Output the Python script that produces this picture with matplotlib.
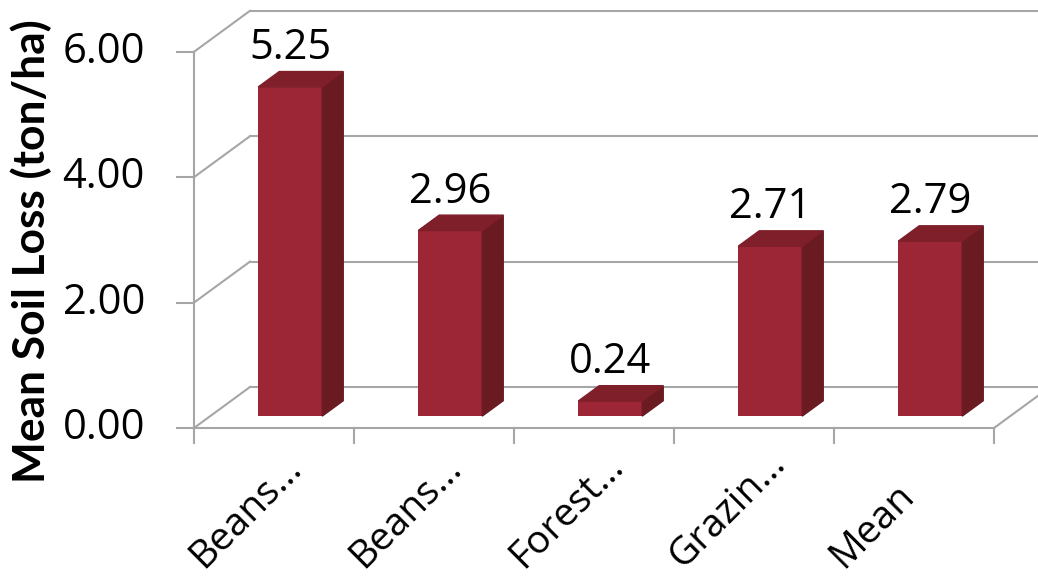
import matplotlib
matplotlib.use("Agg")
import matplotlib.pyplot as plt
from matplotlib.patches import Polygon

# data
categories = ["Beans…", "Beans…", "Forest…", "Grazin…", "Mean"]
soil_loss = [5.25, 2.96, 0.24, 2.71, 2.79]
y_ticks = [0, 2, 4, 6]

# fake 3d projection: depth 1 = back wall
DX = 0.35
DY = 0.654
D0, D1 = 0.29, 0.665
BAR_W = 0.4

FRONT = "#9c2536"
SIDE = "#6a1a21"
TOP = "#7e1f2a"
GRID = "#a6a6a6"

plt.rcParams['font.family'] = ['Open Sans', 'DejaVu Sans']

fig = plt.figure(figsize=(10.38, 5.84), dpi=100)
ax = fig.add_axes([0, 0, 1, 1])
ax.set_xlim(-1.7125, 4.775)
ax.set_ylim(-2.488, 6.826)
ax.axis("off")

n = len(categories)
x_left, x_right = -0.5, n - 0.5

# walls / gridlines
for g in y_ticks:
    ax.plot([x_left + DX, x_right + DX], [g + DY, g + DY], color=GRID, lw=1.5, zorder=1)
    ax.plot([x_left, x_left + DX], [g, g + DY], color=GRID, lw=1.5, zorder=1)
    ax.plot([x_left - 17 / 160, x_left], [g, g], color=GRID, lw=1.5, zorder=1)
    ax.text(x_left - 49 / 160, g, f"{g:.2f}", ha="right", va="center", fontsize=30)

ax.plot([x_left, x_left], [0, y_ticks[-1]], color=GRID, lw=1.5, zorder=1)
ax.plot([x_left, x_right], [0, 0], color=GRID, lw=1.5, zorder=1)
ax.plot([x_right, x_right + DX], [0, DY], color=GRID, lw=1.5, zorder=1)
for i in range(n + 1):
    xt = x_left + i
    ax.plot([xt, xt], [0, -15 / 62.7], color=GRID, lw=1.5, zorder=1)

# bars
xs = [i + D0 * DX for i in range(n)]
ax.bar(xs, soil_loss, width=BAR_W, bottom=D0 * DY, color=FRONT, zorder=3)
for x, v in zip(xs, soil_loss):
    l, r = x - BAR_W / 2, x + BAR_W / 2
    b, t = D0 * DY, v + D0 * DY
    ddx, ddy = (D1 - D0) * DX, (D1 - D0) * DY
    ax.add_patch(Polygon([(r, b), (r + ddx, b + ddy), (r + ddx, t + ddy), (r, t)],
                         closed=True, color=SIDE, zorder=3))
    ax.add_patch(Polygon([(l, t), (r, t), (r + ddx, t + ddy), (l + ddx, t + ddy)],
                         closed=True, color=TOP, zorder=3))
    ax.annotate(f"{v:.2f}", (x, t + ddy), xytext=(0, 9), textcoords="offset points",
                ha="center", va="baseline", fontsize=30, zorder=4)

# category labels, anchored at their start like excel does
for i, c in enumerate(categories):
    ax.text(i - 0.444, -2.249, c, rotation=45, rotation_mode="anchor",
            ha="left", va="baseline", fontsize=28)

ylab = fig.text(31 / 1038, 1 - 251 / 584, "Mean Soil Loss (ton/ha)", rotation=90,
                ha="center", va="center", fontsize=30, fontweight="bold",
                family=['Lato', 'Open Sans', 'DejaVu Sans'])
# shrink the label so it spans about as far as the original one
r = fig.canvas.get_renderer()
h = ylab.get_window_extent(r).height
ylab.set_fontsize(30 * 463 / h)

fig.savefig("out.png", dpi=100)
